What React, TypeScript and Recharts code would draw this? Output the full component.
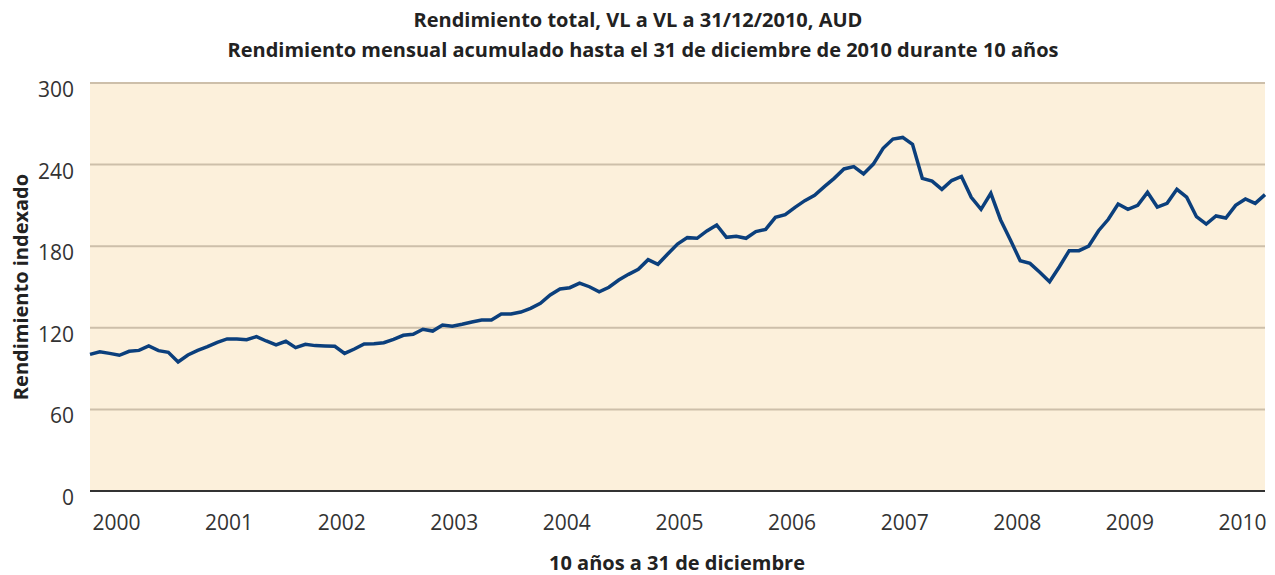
import { LineChart, Line, XAxis, YAxis, CartesianGrid } from 'recharts'

// indexed monthly return, Dec 2000 = 100 ... Dec 2010
const monthlyIndex = [
  100.5, 102.4, 101.2, 99.8, 102.7, 103.4, 106.6, 103.2, 102, 94.9, 100, 103.4,
  106.1, 109.3, 111.8, 111.8, 111.3, 113.5, 110.3, 107.4, 110.1, 105.4, 107.9, 106.9,
  106.6, 106.4, 101.2, 104.4, 108.1, 108.3, 109, 111.5, 114.5, 115.2, 118.9, 117.6,
  122, 121.1, 122.6, 124.3, 125.7, 125.7, 130.1, 130.1, 131.6, 134.3, 138, 144.1,
  148.5, 149.5, 152.9, 150.2, 146.5, 149.8, 155.1, 159.3, 163, 170.1, 166.7, 174.3,
  181.6, 186.3, 185.8, 191.2, 195.6, 186.5, 187.3, 185.8, 190.7, 192.4, 201.2, 203.2,
  208.6, 213.5, 217.4, 223.8, 229.9, 236.8, 238.5, 233.1, 240.4, 252, 258.8, 260,
  254.9, 229.9, 227.9, 221.8, 228.3, 231.3, 216, 207.1, 218.9, 199.3, 184.6, 169.3,
  167.4, 160.8, 153.9, 164.9, 176.7, 176.7, 180.1, 191.4, 199.8, 211, 207.1, 210,
  219.6, 208.8, 211.5, 221.8, 216, 201.7, 196.3, 202.2, 200.7, 210, 214.7, 211.5,
  217.9,
]

const yearLabels = ['2000', '2001', '2002', '2003', '2004', '2005', '2006', '2007', '2008', '2009', '2010']
const yearTicks = [2.7, 14.2, 25.7, 37.2, 48.7, 60.2, 71.7, 83.2, 94.7, 106.2, 117.7]
const yTicks = [0, 60, 120, 180, 240, 300]

const FONT = '"Open Sans", "Noto Sans", sans-serif'

const XTick = (props: any) => {
  const { x, y, payload, index } = props
  return (
    <text x={x} y={y + 37} textAnchor="middle" fill="#333" fontSize={21} fontFamily={FONT}>
      {yearLabels[index] ?? payload.value}
    </text>
  )
}

const YTick = (props: any) => {
  const { x, y, payload } = props
  return (
    <text x={x - 14} y={y + 14} textAnchor="end" fill="#333" fontSize={21} fontFamily={FONT}>
      {payload.value}
    </text>
  )
}

export default function App() {
  const data = monthlyIndex.map((v, i) => ({ m: i, value: v }))

  return (
    <div style={{ position: 'absolute', left: 0, top: 0, width: 1275, height: 575, background: '#fff' }}>
      <LineChart width={1275} height={575} data={data} margin={{ top: 83, right: 10, bottom: 0, left: 0 }}>
        <CartesianGrid vertical={false} fill="#FCF0DB" stroke="#CDBFAA" strokeWidth={2} />
        <XAxis
          dataKey="m"
          type="number"
          domain={[0, 120]}
          ticks={yearTicks}
          tick={<XTick />}
          tickLine={false}
          tickSize={0}
          height={84}
          axisLine={{ stroke: '#333', strokeWidth: 2 }}
          interval={0}
        />
        <YAxis
          domain={[0, 300]}
          ticks={yTicks}
          tick={<YTick />}
          tickLine={false}
          tickSize={0}
          axisLine={false}
          width={90}
          interval={0}
        />
        <Line
          type="linear"
          dataKey="value"
          stroke="#0B3F7C"
          strokeWidth={3.5}
          dot={false}
          isAnimationActive={false}
        />
      </LineChart>
      <svg width={1275} height={575} style={{ position: 'absolute', left: 0, top: 0, pointerEvents: 'none' }}>
        <text x={638} y={27} textAnchor="middle" fontSize={20} fontWeight={700} fill="#222" fontFamily={FONT}>
          Rendimiento total, VL a VL a 31/12/2010, AUD
        </text>
        <text x={643} y={57} textAnchor="middle" fontSize={20} fontWeight={700} fill="#222" fontFamily={FONT}>
          Rendimiento mensual acumulado hasta el 31 de diciembre de 2010 durante 10 años
        </text>
        <text
          x={0}
          y={0}
          transform="translate(28 287) rotate(-90)"
          textAnchor="middle"
          fontSize={20}
          fontWeight={700}
          fill="#222"
          fontFamily={FONT}
        >
          Rendimiento indexado
        </text>
        <text x={677} y={570} textAnchor="middle" fontSize={20} fontWeight={700} fill="#222" fontFamily={FONT}>
          10 años a 31 de diciembre
        </text>
      </svg>
    </div>
  )
}
